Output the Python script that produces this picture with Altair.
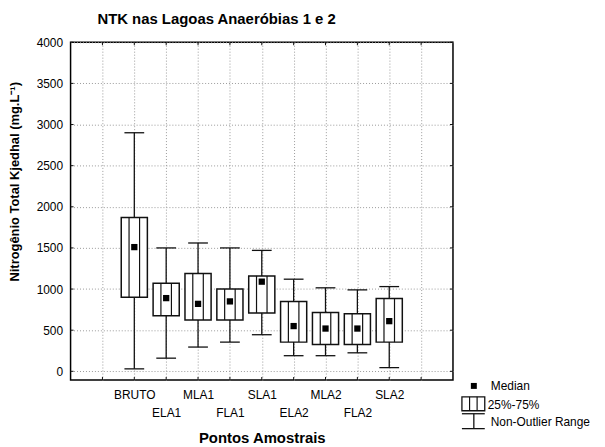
import altair as alt
import pandas as pd

# ---- data ----
categories = ["BRUTO", "ELA1", "MLA1", "FLA1", "SLA1", "ELA2", "MLA2", "FLA2", "SLA2"]
positions = [1, 2, 3, 4, 5, 6, 7, 8, 9]
whisker_high = [2900, 1500, 1560, 1500, 1470, 1120, 1015, 990, 1030]
q75 = [1870, 1070, 1190, 1000, 1160, 850, 715, 700, 885]
medians = [1510, 890, 820, 850, 1090, 550, 520, 520, 610]
q25 = [900, 675, 625, 625, 710, 355, 325, 325, 355]
whisker_low = [30, 160, 295, 355, 445, 190, 190, 225, 45]

y_ticks = [0, 500, 1000, 1500, 2000, 2500, 3000, 3500, 4000]
x_ticks = [0, 1, 2, 3, 4, 5, 6, 7, 8, 9, 10]
legend_labels = ["Median", "25%-75%", "Non-Outlier Range"]

title_text = "NTK nas Lagoas Anaeróbias 1 e 2"
x_title = "Pontos Amostrais"
y_title = "Nitrogênio Total Kjedhal (mg.L⁻¹)"

FONT = "Liberation Sans"
C = "#111111"
W, H = 385, 340

df = pd.DataFrame({
    "cat": categories, "pos": positions, "hi": whisker_high, "q3": q75,
    "med": medians, "q1": q25, "lo": whisker_low,
})

xs = alt.Scale(domain=[-1, 11], nice=False, zero=False)
ys = alt.Scale(domain=[-105, 4000], nice=False, zero=False)

labels_js = "[" + ",".join(["''"] + ["'%s'" % c for c in categories] + ["''"]) + "]"
label_expr = "datum.value % 2 == 0 ? ['', " + labels_js + "[datum.value]] : " + labels_js + "[datum.value]"

xaxis = alt.Axis(values=x_ticks, labelExpr=label_expr, ticks=False, domain=False,
                 grid=True, gridDash=[1, 2], gridColor="#9a9a9a", gridWidth=1,
                 labelPadding=19, labelBaseline="alphabetic", labelLineHeight=18,
                 labelFontSize=12, labelColor="black", labelAngle=0,
                 labelOverlap=False, labelFlush=False,
                 title=x_title, titleFontSize=15, titleFontWeight="bold",
                 titleColor="black", titleBaseline="alphabetic", titleY=63)
yaxis = alt.Axis(values=y_ticks, format="d", ticks=False, domain=False,
                 grid=True, gridDash=[1, 2], gridColor="#9a9a9a", gridWidth=1,
                 labelPadding=8, labelFontSize=12, labelColor="black",
                 labelBaseline="middle", labelOverlap=False, labelFlush=False,
                 title=y_title, titleFontSize=13, titleFontWeight="bold",
                 titleColor="black", titleAngle=270, titleAlign="center",
                 titleBaseline="middle", titleX=-56, titleY=140)

base = alt.Chart(df)

whisk = base.mark_rule(color=C, strokeWidth=1.3).encode(
    x=alt.X("pos:Q", scale=xs, axis=xaxis),
    y=alt.Y("lo:Q", scale=ys, axis=yaxis),
    y2="hi:Q",
)
cap_hi = base.transform_calculate(xl="datum.pos-0.31", xr="datum.pos+0.31").mark_rule(
    color=C, strokeWidth=1.3).encode(
    x=alt.X("xl:Q", scale=xs, axis=xaxis), x2="xr:Q",
    y=alt.Y("hi:Q", scale=ys, axis=yaxis))
cap_lo = base.transform_calculate(xl="datum.pos-0.31", xr="datum.pos+0.31").mark_rule(
    color=C, strokeWidth=1.3).encode(
    x=alt.X("xl:Q", scale=xs, axis=xaxis), x2="xr:Q",
    y=alt.Y("lo:Q", scale=ys, axis=yaxis))
box = base.transform_calculate(bl="datum.pos-0.41", br="datum.pos+0.41").mark_rect(
    fill="white", stroke=C, strokeWidth=1.5).encode(
    x=alt.X("bl:Q", scale=xs, axis=xaxis), x2="br:Q",
    y=alt.Y("q1:Q", scale=ys, axis=yaxis), y2="q3:Q")
inner_l = base.transform_calculate(il="datum.pos-0.165").mark_rule(
    color=C, strokeWidth=1.2).encode(
    x=alt.X("il:Q", scale=xs, axis=xaxis),
    y=alt.Y("q1:Q", scale=ys, axis=yaxis), y2="q3:Q")
inner_r = base.transform_calculate(ir="datum.pos+0.165").mark_rule(
    color=C, strokeWidth=1.2).encode(
    x=alt.X("ir:Q", scale=xs, axis=xaxis),
    y=alt.Y("q1:Q", scale=ys, axis=yaxis), y2="q3:Q")
med = base.mark_square(size=40, color="black", opacity=1).encode(
    x=alt.X("pos:Q", scale=xs, axis=xaxis),
    y=alt.Y("med:Q", scale=ys, axis=yaxis))

# inward tick marks on all four sides
ydf = pd.DataFrame({"v": y_ticks})
xdf = pd.DataFrame({"v": x_ticks})
tick_l = alt.Chart(ydf).mark_rule(color=C, strokeWidth=1).encode(
    y=alt.Y("v:Q", scale=ys, axis=yaxis), x=alt.value(0), x2=alt.value(3))
tick_r = alt.Chart(ydf).mark_rule(color=C, strokeWidth=1).encode(
    y=alt.Y("v:Q", scale=ys, axis=yaxis), x=alt.value(W - 3), x2=alt.value(W))
tick_b = alt.Chart(xdf).mark_rule(color=C, strokeWidth=1).encode(
    x=alt.X("v:Q", scale=xs, axis=xaxis), y=alt.value(H - 3), y2=alt.value(H))
tick_t = alt.Chart(xdf).mark_rule(color=C, strokeWidth=1).encode(
    x=alt.X("v:Q", scale=xs, axis=xaxis), y=alt.value(0), y2=alt.value(3))

# chart title as a text mark above the plot
tdf = pd.DataFrame({"t": [title_text]})
title_mark = alt.Chart(tdf).mark_text(align="left", baseline="alphabetic", fontSize=15,
                                      fontWeight="bold", font=FONT, color="black").encode(
    x=alt.value(27), y=alt.value(-18.5), text="t:N")

# legend (outside plot, bottom right)
ld0 = pd.DataFrame({"t": [legend_labels[0]]})
ld1 = pd.DataFrame({"t": [legend_labels[1]]})
ld2 = pd.DataFrame({"t": [legend_labels[2]]})
lg_sq = alt.Chart(ld0).mark_square(size=36, color="black", opacity=1).encode(
    x=alt.value(406), y=alt.value(346))
lg_t0 = alt.Chart(ld0).mark_text(align="left", baseline="middle", fontSize=12, font=FONT,
                                 color="black").encode(
    x=alt.value(423), y=alt.value(346), text="t:N")
lg_box = alt.Chart(ld1).mark_rect(fill="white", stroke=C, strokeWidth=1.3).encode(
    x=alt.value(394), x2=alt.value(417), y=alt.value(357), y2=alt.value(371))
lg_bl = alt.Chart(ld1).mark_rule(color=C, strokeWidth=1.2).encode(
    x=alt.value(401.7), y=alt.value(357), y2=alt.value(371))
lg_br = alt.Chart(ld1).mark_rule(color=C, strokeWidth=1.2).encode(
    x=alt.value(409.3), y=alt.value(357), y2=alt.value(371))
lg_t1 = alt.Chart(ld1).mark_text(align="left", baseline="middle", fontSize=12, font=FONT,
                                 color="black").encode(
    x=alt.value(420), y=alt.value(365.5), text="t:N")
lg_w1 = alt.Chart(ld2).mark_rule(color=C, strokeWidth=1.3).encode(
    x=alt.value(394), x2=alt.value(417), y=alt.value(374))
lg_w2 = alt.Chart(ld2).mark_rule(color=C, strokeWidth=1.3).encode(
    x=alt.value(406), y=alt.value(374), y2=alt.value(389))
lg_w3 = alt.Chart(ld2).mark_rule(color=C, strokeWidth=1.3).encode(
    x=alt.value(394), x2=alt.value(417), y=alt.value(389))
lg_t2 = alt.Chart(ld2).mark_text(align="left", baseline="middle", fontSize=12, font=FONT,
                                 color="black").encode(
    x=alt.value(423), y=alt.value(382), text="t:N")

chart = alt.layer(
    whisk, cap_hi, cap_lo, box, inner_l, inner_r, med,
    tick_l, tick_r, tick_b, tick_t, title_mark,
    lg_sq, lg_t0, lg_box, lg_bl, lg_br, lg_t1, lg_w1, lg_w2, lg_w3, lg_t2,
).properties(
    width=W, height=H,
    autosize=alt.AutoSizeParams(type="none"),
    padding={"left": 63, "top": 33, "right": 145, "bottom": 66},
).configure(font=FONT).configure_view(stroke="black", strokeWidth=1.5)

chart.save("out.html", embed_options={"renderer": "svg", "actions": False})
